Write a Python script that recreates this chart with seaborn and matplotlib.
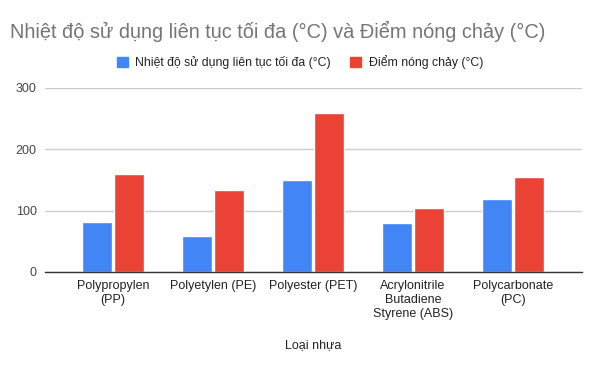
"""
plot.py - Max continuous service temperature vs melting point by plastic type.
"""

import pandas as pd
import seaborn as sns
import matplotlib.pyplot as plt

# chart data
plastics = ["Polypropylen\n(PP)", "Polyetylen (PE)", "Polyester (PET)",
            "Acrylonitrile\nButadiene\nStyrene (ABS)", "Polycarbonate\n(PC)"]
series_names = ["Nhiệt độ sử dụng liên tục tối đa (°C)", "Điểm nóng chảy (°C)"]
max_service_temp = [81, 59, 150, 79, 119]
melting_point = [159, 134, 259, 104, 154]
y_ticks = [0, 100, 200, 300]

colors = ["#4285F4", "#EA4335"]


def build_frame():
    rows = []
    for name, vals in zip(series_names, [max_service_temp, melting_point]):
        for p, v in zip(plastics, vals):
            rows.append({"plastic": p, "series": name, "value": v})
    return pd.DataFrame(rows)


def main():
    df = build_frame()
    sns.set_theme(style="white")
    plt.rcParams["font.family"] = ["Liberation Sans", "DejaVu Sans"]

    fig = plt.figure(figsize=(6, 3.71), dpi=100)
    ax = fig.add_axes([0.075, 0.267, 0.895, 0.496])

    sns.barplot(data=df, x="plastic", y="value", hue="series",
                palette=colors, width=0.64, gap=0.06, saturation=1,
                ax=ax, legend=False)

    ax.set_xlim(-0.68, 4.69)
    ax.set_ylim(0, 300)
    ax.set_yticks(y_ticks)
    ax.set_yticklabels([str(t) for t in y_ticks], fontsize=9, color="#444444")
    ax.tick_params(axis="x", labelsize=9, colors="#222222", length=0, pad=6)
    ax.tick_params(axis="y", length=0, pad=6)
    for lbl in ax.get_xticklabels():
        lbl.set_multialignment("center")
    ax.grid(axis="y", color="#cccccc", linewidth=1)
    ax.set_axisbelow(True)
    for s in ["top", "right", "left"]:
        ax.spines[s].set_visible(False)
    ax.spines["bottom"].set_color("#333333")
    ax.spines["bottom"].set_linewidth(1)
    ax.spines["bottom"].set_zorder(5)

    ax.set_ylabel("")
    ax.set_xlabel("Loại nhựa", fontsize=9, color="#222222", labelpad=14)

    fig.text(0.017, 0.915, "Nhiệt độ sử dụng liên tục tối đa (°C) và Điểm nóng chảy (°C)",
             fontsize=14.4, color="#757575", va="center", ha="left")

    handles = [plt.Rectangle((0, 0), 1, 1, color=c) for c in colors]
    fig.legend(handles, series_names, loc="center", bbox_to_anchor=(0.5, 0.833),
               ncol=2, frameon=False, fontsize=8.8, handlelength=0.9,
               handleheight=0.9, handletextpad=0.6, columnspacing=1.6,
               labelcolor="#222222")

    fig.savefig("out.png", dpi=100)


if __name__ == "__main__":
    main()
